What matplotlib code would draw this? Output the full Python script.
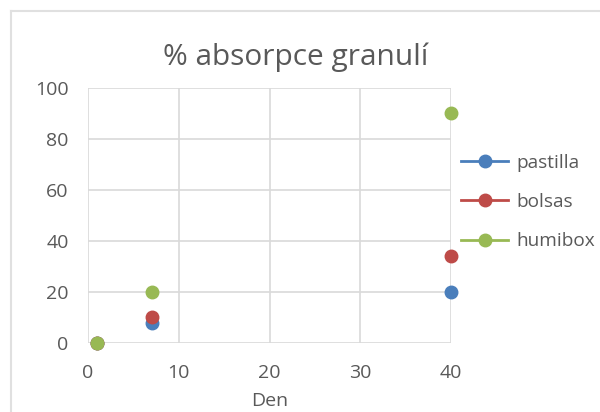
import matplotlib
matplotlib.use("Agg")
import matplotlib.pyplot as plt
from matplotlib.lines import Line2D

plt.rcParams['font.family'] = ['Open Sans', 'DejaVu Sans']

days = [1, 7, 40]
pastilla = [0, 8, 20]
bolsas = [0, 10, 34]
humibox = [0, 20, 90]
series = [("pastilla", pastilla, "#4a7ebb"),
          ("bolsas", bolsas, "#be4b48"),
          ("humibox", humibox, "#98b954")]
xticks = [0, 10, 20, 30, 40]
yticks = [0, 20, 40, 60, 80, 100]

fig = plt.figure(figsize=(6, 4.12), dpi=100)
ax = fig.add_axes([0.1467, 0.1675, 0.605, 0.619])

# chart-area border (top and left edges visible in the crop)
bx, by = 10.5 / 600, 1 - 10.5 / 412
fig.add_artist(Line2D([bx, 1], [by, by], transform=fig.transFigure, color="#e0e0e0", linewidth=1.5))
fig.add_artist(Line2D([bx, bx], [0, by], transform=fig.transFigure, color="#e0e0e0", linewidth=1.5))

for name, vals, col in series:
    ax.plot(days, vals, linestyle='none', marker='o', markersize=9, color=col, label=name,
            zorder=3, clip_on=False)

ax.set_xlim(0, 40)
ax.set_ylim(0, 100)
ax.set_xticks(xticks)
ax.set_yticks(yticks)
ax.grid(True, color="#d9d9d9", linewidth=1.2)
for s in ax.spines.values():
    s.set_visible(False)
ax.tick_params(length=0, labelsize=14, colors="#595959")
ax.tick_params(axis='x', pad=15)
ax.tick_params(axis='y', pad=14)
ax.set_xlabel("Den", fontsize=14, color="#595959", labelpad=7)
fig.text(0.492, (412 - 65) / 412, "% absorpce granulí", fontsize=21.5, color="#595959",
         ha='center', va='baseline')

handles = [Line2D([0], [0], color=c, marker='o', markersize=9, linewidth=2) for _, _, c in series]
fig.legend(handles, [n for n, _, _ in series], loc='center left', bbox_to_anchor=(0.768, 0.51),
           frameon=False, fontsize=13.7, labelcolor="#595959", handlelength=2.5, labelspacing=1.12,
           handletextpad=0.42, borderpad=0, borderaxespad=0)

fig.savefig("out.png", dpi=100)
